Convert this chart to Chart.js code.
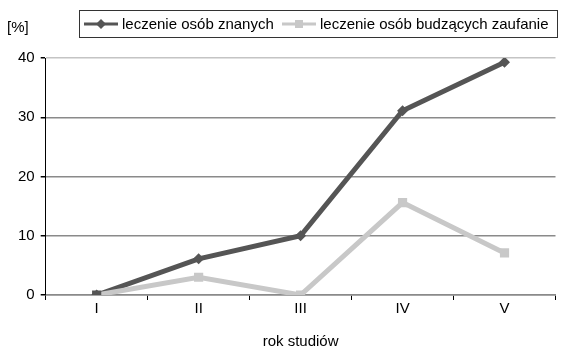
<!DOCTYPE html>
<html>
<head>
<meta charset="utf-8">
<script src="https://cdn.jsdelivr.net/npm/chart.js@4"></script>
<style>
  html, body { margin: 0; padding: 0; background: #fff; overflow: hidden; }
  body { width: 562px; height: 349px; position: relative; font-family: "Liberation Sans", Arial, sans-serif; }
  #chart { position: absolute; left: 0; top: 0; }
  .unit { position: absolute; left: 7px; top: 18px; font-size: 15px; color: #000; }
  .legend { position: absolute; left: 79px; top: 10px; width: 477px; height: 26px; border: 1px solid #333; }
  .legend .item { position: absolute; top: 4px; font-size: 15px; line-height: 17px; color: #000; white-space: nowrap; }
  .legend svg { position: absolute; top: 7px; }
</style>
</head>
<body>
<canvas id="chart" width="562" height="349"></canvas>
<div class="unit">[%]</div>
<div class="legend" id="legend"></div>
<script>
// Data
const years = ['I', 'II', 'III', 'IV', 'V'];
const znanych = [0, 6.1, 10, 31.1, 39.3];
const zaufanie = [0, 3, 0, 15.6, 7.1];
const seriesNames = ['leczenie osób znanych', 'leczenie osób budzących zaufanie'];
const yTicks = [0, 10, 20, 30, 40];

const DARK = '#555555';
const LIGHT = '#c8c8c8';
const FONT = '"Liberation Sans", Arial, sans-serif';

// legend drawn as html so the frame and spacing match
function buildLegend() {
  const el = document.getElementById('legend');
  const items = [
    { name: seriesNames[0], color: DARK, marker: '<polygon points="17,1 22,6 17,11 12,6" fill="' + DARK + '"/>', x: 4, tx: 42 },
    { name: seriesNames[1], color: LIGHT, marker: '<rect x="13" y="2" width="8" height="8" fill="' + LIGHT + '"/>', x: 202, tx: 240 }
  ];
  items.forEach(it => {
    const svg = '<svg width="34" height="12" style="left:' + it.x + 'px">' +
      '<line x1="0" y1="6" x2="34" y2="6" stroke="' + it.color + '" stroke-width="3"/>' + it.marker + '</svg>';
    el.insertAdjacentHTML('beforeend', svg + '<span class="item" style="left:' + it.tx + 'px">' + it.name + '</span>');
  });
}
buildLegend();

const ctx = document.getElementById('chart').getContext('2d');
new Chart(ctx, {
  type: 'line',
  data: {
    labels: years,
    datasets: [
      {
        label: seriesNames[0],
        data: znanych,
        borderColor: DARK,
        backgroundColor: DARK,
        borderWidth: 5,
        pointStyle: 'rectRot',
        pointRadius: 5.5,
        pointBorderWidth: 0,
        tension: 0,
        order: 2
      },
      {
        label: seriesNames[1],
        data: zaufanie,
        borderColor: LIGHT,
        backgroundColor: LIGHT,
        // the first marker shows dark in the reference
        pointBackgroundColor: [DARK, LIGHT, LIGHT, LIGHT, LIGHT],
        borderWidth: 5,
        pointStyle: 'rect',
        pointRadius: 6.5,
        pointBorderWidth: 0,
        tension: 0,
        order: 1
      }
    ]
  },
  options: {
    responsive: false,
    animation: false,
    layout: { padding: { top: 58, left: 12, right: 1, bottom: 0 } },
    plugins: {
      legend: { display: false },
      tooltip: { enabled: false }
    },
    scales: {
      x: {
        offset: true,
        grid: { offset: true, drawOnChartArea: false, tickLength: 5, color: '#000', lineWidth: 1 },
        border: { color: '#8a8a8a', width: 1.5 },
        ticks: { color: '#000', padding: 0, font: { family: FONT, size: 15 } },
        title: { display: true, text: 'rok studiów', color: '#000', padding: { top: 16, bottom: 0 }, font: { family: FONT, size: 15, lineHeight: 1 } }
      },
      y: {
        min: 0,
        max: 40,
        afterBuildTicks: axis => { axis.ticks = yTicks.map(v => ({ value: v })); },
        grid: {
          color: c => (c.tick && c.tick.value === 40 ? '#c4c4c4' : '#8a8a8a'),
          lineWidth: 1.5,
          tickLength: 5,
          tickColor: '#000'
        },
        border: { color: '#000', width: 1 },
        ticks: { color: '#000', padding: 6, font: { family: FONT, size: 15 } }
      }
    }
  }
});
</script>
</body>
</html>
